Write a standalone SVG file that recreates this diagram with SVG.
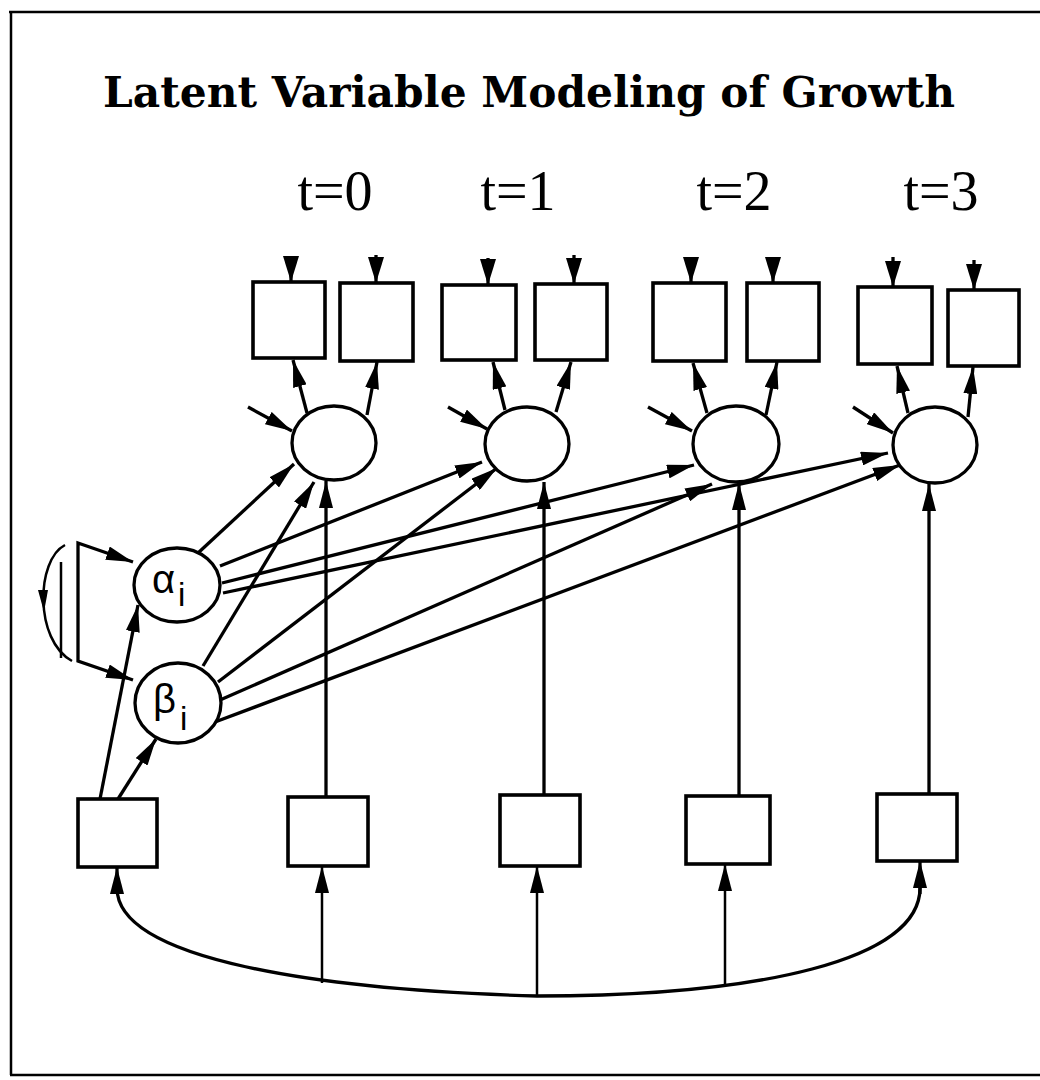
<svg xmlns="http://www.w3.org/2000/svg" width="1040" height="1080" viewBox="0 0 1040 1080">
<defs>
<marker id="ah" markerUnits="userSpaceOnUse" viewBox="0 0 27 14" refX="27" refY="7" markerWidth="27" markerHeight="14" orient="auto-start-reverse">
<path d="M0,0 L27,7 L0,14 z" fill="#000"/>
</marker>
<marker id="tp" markerUnits="userSpaceOnUse" viewBox="0 0 26 16" refX="26" refY="8" markerWidth="26" markerHeight="16" orient="auto">
<path d="M0,0 L26,8 L0,16 z" fill="#000"/>
</marker>
</defs>
<style>
.box{fill:#fff;stroke:#000;stroke-width:3.6}
.lat{fill:#fff;stroke:#000;stroke-width:3.3}
.c line,.c path,.c polyline{stroke:#000;stroke-width:3.3;fill:none}
.c .thin{stroke-width:2.5}
.arr{marker-end:url(#ah)}
.top{marker-end:url(#tp);stroke-width:1.5}
.title{font-family:"DejaVu Serif","Liberation Serif",serif;font-weight:bold;font-size:43px}
.tl{font-family:"Liberation Serif","Times New Roman",serif;font-size:56px;text-anchor:middle}
.gk{font-family:"Liberation Sans",Arial,sans-serif;font-size:40px}
.sub{font-family:"Liberation Sans",Arial,sans-serif;font-size:33px}
</style>
<rect x="0" y="0" width="1040" height="1080" fill="#fff"/>
<g id="frame" stroke="#000" stroke-width="2.5" fill="none">
<line x1="9" y1="12" x2="1040" y2="12"/>
<line x1="11" y1="11" x2="11" y2="1075"/>
<line x1="10" y1="1075" x2="1040" y2="1075"/>
</g>
<text class="title" x="103" y="107" textLength="852" lengthAdjust="spacingAndGlyphs">Latent Variable Modeling of Growth</text>
<g id="time-labels">
<text class="tl" x="335" y="210">t=0</text>
<text class="tl" x="518" y="210">t=1</text>
<text class="tl" x="734" y="210">t=2</text>
<text class="tl" x="941" y="210">t=3</text>
</g>
<g class="c" id="connectors">
<line class="top" x1="291" y1="256" x2="291" y2="282"/>
<line class="top" x1="376" y1="255" x2="376" y2="283"/>
<line class="top" x1="488" y1="258" x2="488" y2="285"/>
<line class="top" x1="574" y1="255" x2="574" y2="284"/>
<line class="top" x1="691" y1="258" x2="691" y2="283"/>
<line class="top" x1="773" y1="257" x2="773" y2="283"/>
<line class="top" x1="893" y1="257" x2="893" y2="287"/>
<line class="top" x1="974" y1="260" x2="974" y2="290"/>
<line class="arr" x1="307" y1="413" x2="293" y2="360"/>
<line class="arr" x1="367" y1="415" x2="377" y2="362"/>
<line class="arr" x1="505" y1="410" x2="493" y2="362"/>
<line class="arr" x1="556" y1="412" x2="571" y2="362"/>
<line class="arr" x1="707" y1="413" x2="693" y2="363"/>
<line class="arr" x1="766" y1="415" x2="777" y2="362"/>
<line class="arr" x1="908" y1="413" x2="897" y2="366"/>
<line class="arr" x1="968" y1="417" x2="973" y2="367"/>
<line class="arr" x1="248" y1="407" x2="292" y2="431"/>
<line class="arr" x1="448" y1="407" x2="487" y2="429"/>
<line class="arr" x1="648" y1="407" x2="692" y2="431"/>
<line class="arr" x1="853" y1="407" x2="893" y2="433"/>
<line class="arr" x1="198" y1="553" x2="294" y2="464"/>
<line class="arr" x1="220" y1="566" x2="482" y2="462"/>
<line class="arr" x1="222" y1="583" x2="694" y2="465"/>
<line class="arr" x1="223" y1="593" x2="888" y2="453"/>
<line class="arr" x1="203" y1="666" x2="314" y2="482"/>
<line class="arr" x1="218" y1="682" x2="497" y2="468"/>
<line class="arr" x1="220" y1="700" x2="712" y2="484"/>
<line class="arr" x1="215" y1="722" x2="900" y2="465"/>
<line class="arr" x1="326" y1="797" x2="326" y2="481"/>
<line class="arr" x1="544" y1="795" x2="544" y2="482"/>
<line class="arr" x1="739" y1="796" x2="739" y2="483"/>
<line class="arr" x1="929" y1="794" x2="929" y2="484"/>
<line class="arr" x1="100" y1="799" x2="138" y2="605"/>
<line class="arr" x1="118" y1="799" x2="156" y2="739"/>
<polyline points="133,562 78,543 78,661 133,680" marker-start="url(#ah)" marker-end="url(#ah)"/>
<path class="thin" d="M65,545 C36,560 34,640 72,661"/>
<polygon points="38,590 48,590 44,612" fill="#000" stroke="none"/>
<line class="thin" x1="61" y1="562" x2="61" y2="658"/>
<path d="M117,888 C117,960 320,990 537,996 C760,996 920,960 920,888"/>
<line class="arr" x1="117" y1="894" x2="117" y2="867"/>
<line class="arr" x1="920" y1="894" x2="920" y2="861"/>
<line class="arr thin" x1="322" y1="983" x2="322" y2="866"/>
<line class="arr thin" x1="537" y1="996" x2="537" y2="866"/>
<line class="arr thin" x1="725" y1="985" x2="725" y2="864"/>
</g>
<g id="y0a"><rect class="box" x="253" y="282" width="72" height="76"/></g>
<g id="y0b"><rect class="box" x="340" y="283" width="73" height="78"/></g>
<g id="y1a"><rect class="box" x="442" y="285" width="74" height="75"/></g>
<g id="y1b"><rect class="box" x="535" y="284" width="72" height="76"/></g>
<g id="y2a"><rect class="box" x="653" y="283" width="73" height="78"/></g>
<g id="y2b"><rect class="box" x="747" y="283" width="72" height="78"/></g>
<g id="y3a"><rect class="box" x="858" y="287" width="74" height="77"/></g>
<g id="y3b"><rect class="box" x="948" y="290" width="71" height="76"/></g>
<g id="eta0"><ellipse class="lat" cx="334" cy="443" rx="42" ry="37"/></g>
<g id="eta1"><ellipse class="lat" cx="527" cy="444" rx="42" ry="37"/></g>
<g id="eta2"><ellipse class="lat" cx="736" cy="444" rx="43" ry="38"/></g>
<g id="eta3"><ellipse class="lat" cx="935" cy="445" rx="42" ry="38"/></g>
<g id="alpha"><ellipse class="lat" cx="177" cy="585" rx="43" ry="37"/>
<text class="gk" x="152" y="593">α</text><text class="sub" x="178" y="606">i</text></g>
<g id="beta"><ellipse class="lat" cx="178" cy="703" rx="43" ry="40"/>
<text class="gk" x="153" y="713">β</text><text class="sub" x="180" y="730">i</text></g>
<g id="x0"><rect class="box" x="78" y="799" width="79" height="68"/></g>
<g id="x1"><rect class="box" x="288" y="797" width="80" height="69"/></g>
<g id="x2"><rect class="box" x="500" y="795" width="80" height="71"/></g>
<g id="x3"><rect class="box" x="686" y="796" width="84" height="68"/></g>
<g id="x4"><rect class="box" x="877" y="794" width="80" height="67"/></g>
</svg>
